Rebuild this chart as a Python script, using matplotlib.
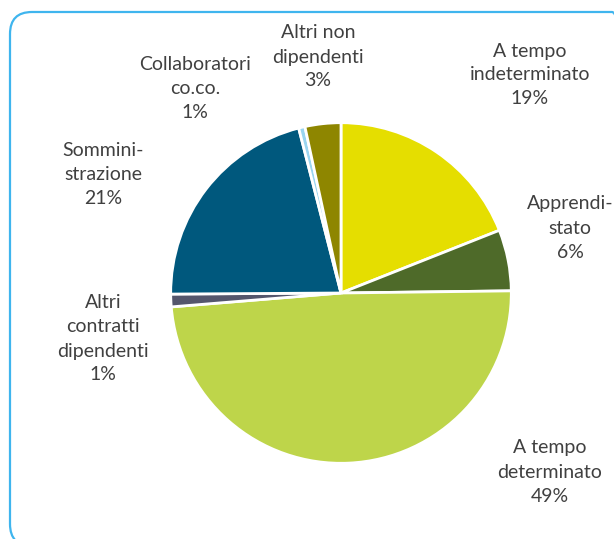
import matplotlib.pyplot as plt
from matplotlib.patches import FancyBboxPatch

# data
categories = ["A tempo\nindeterminato", "Apprendi-\nstato", "A tempo\ndeterminato",
              "Altri\ncontratti\ndipendenti", "Sommini-\nstrazione",
              "Collaboratori\nco.co.", "Altri non\ndipendenti"]
shares = [19.0, 5.8, 48.9, 1.2, 21.1, 0.6, 3.4]
pct_labels = ["19%", "6%", "49%", "1%", "21%", "1%", "3%"]
colors = ["#E5DE00", "#4E6A29", "#BED54A", "#54566C", "#00587D", "#99D5F0", "#8E8600"]

# label centres in pixels (x, y from top)
label_pos = [(530, 75), (570, 228), (550, 472), (103, 339), (103, 174), (195, 88), (318, 57)]

W, H = 614, 539
fig = plt.figure(figsize=(W / 100, H / 100), dpi=100)

# rounded frame, in inches so the corners stay round
frame = FancyBboxPatch((0.10, -0.07), 6.24, 5.34,
                       boxstyle="round,pad=0,rounding_size=0.22",
                       transform=fig.dpi_scale_trans, facecolor="none",
                       edgecolor="#3FB5EE", linewidth=1.6, clip_on=False,
                       zorder=0)
fig.patches.append(frame)

cx, cy, r = 341, 293, 172
ax = fig.add_axes([(cx - r) / W, (H - cy - r) / H, 2 * r / W, 2 * r / H])
ax.pie(shares, colors=colors, startangle=90, counterclock=False, radius=1,
       wedgeprops=dict(edgecolor="white", linewidth=2))
ax.set_xlim(-1.01, 1.01)
ax.set_ylim(-1.01, 1.01)
ax.set_aspect("equal")
ax.axis("off")

for cat, pct, (px, py) in zip(categories, pct_labels, label_pos):
    fig.text(px / W, 1 - py / H, cat + "\n" + pct, ha="center", va="center",
             fontsize=14, color="#404040", family="Lato", linespacing=1.5)

fig.savefig("out.png", dpi=100)
